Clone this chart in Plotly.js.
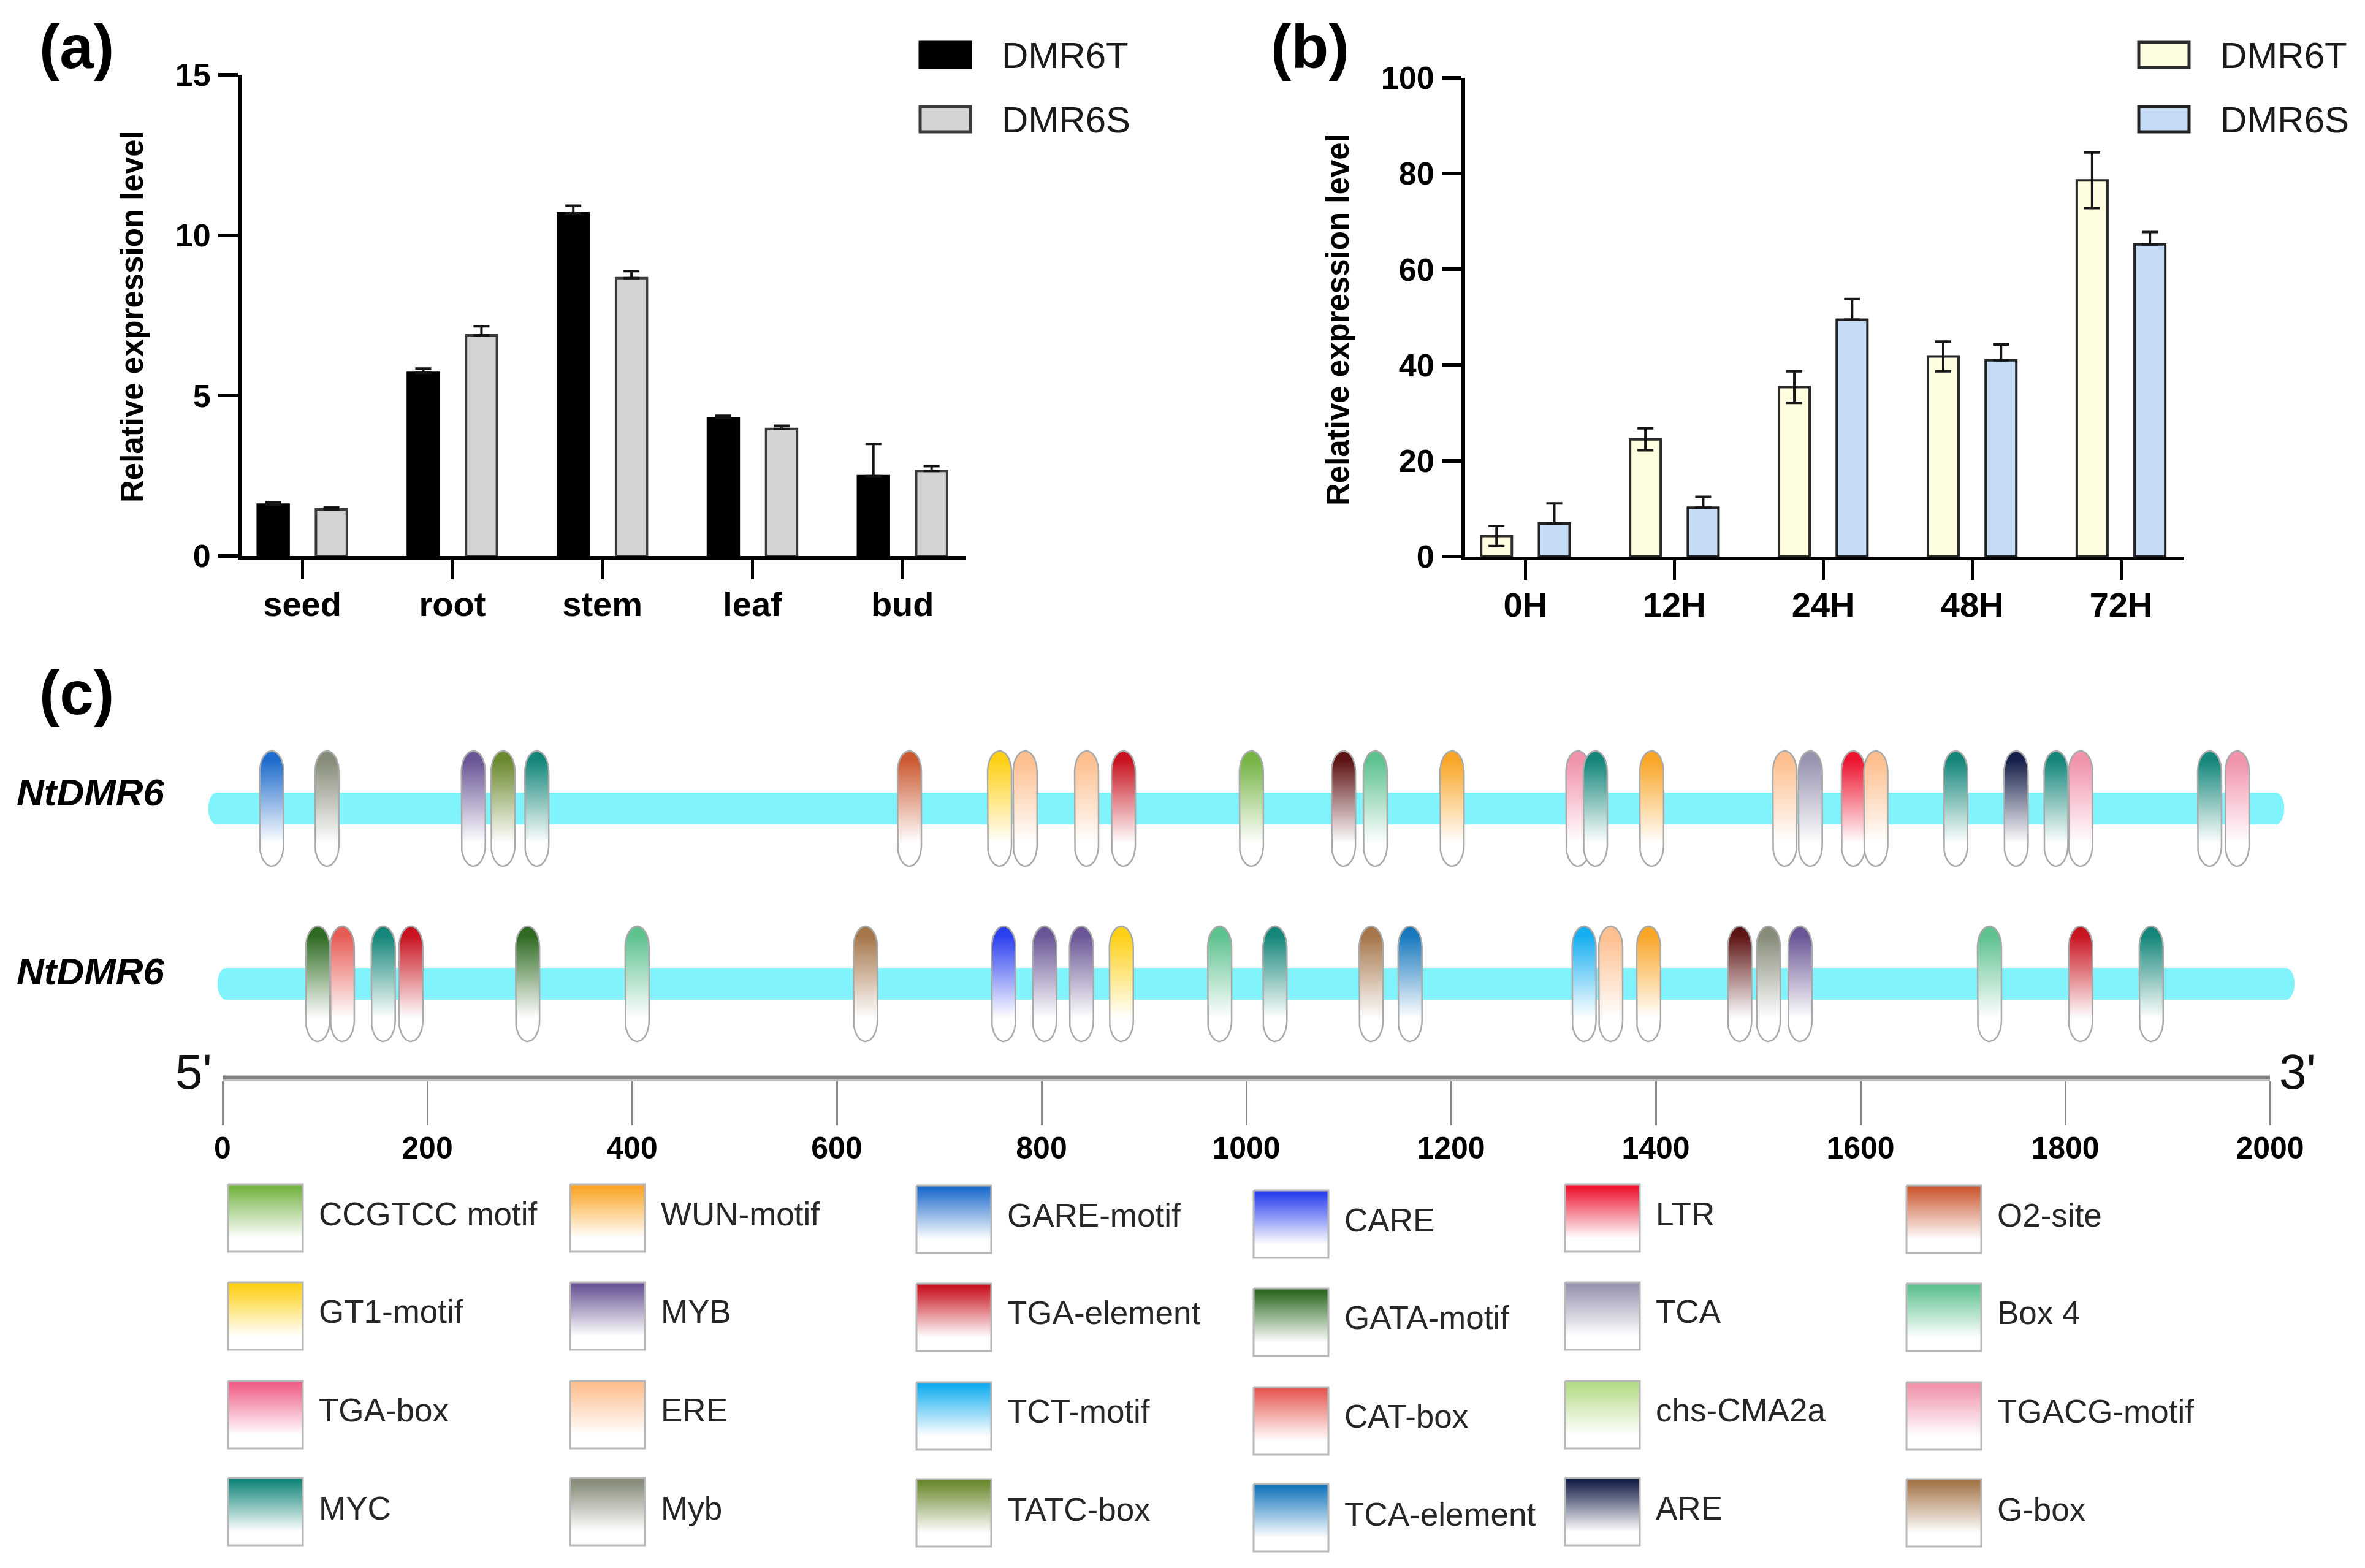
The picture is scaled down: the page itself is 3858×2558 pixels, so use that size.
<!DOCTYPE html>
<html><head><meta charset="utf-8">
<script src="https://cdn.plot.ly/plotly-3.0.1.min.js"></script>
<style>html,body{margin:0;padding:0;background:#fff}#chart{width:3858px;height:2558px}</style>
</head><body><div id="chart"></div>
<script>
// ---------------- DATA ----------------
const tissues = ['seed', 'root', 'stem', 'leaf', 'bud'];
const aDMR6T = [1.6, 5.71, 10.68, 4.3, 2.49];
const aDMR6Terr = [0.08, 0.13, 0.24, 0.07, 1.0];
const aDMR6S = [1.45, 6.88, 8.66, 3.96, 2.65];
const aDMR6Serr = [0.06, 0.28, 0.22, 0.1, 0.15];
const aTicks = [0, 5, 10, 15];

const hours = ['0H', '12H', '24H', '48H', '72H'];
const bDMR6T = [4.3, 24.5, 35.4, 41.8, 78.6];
const bDMR6Terr = [2.1, 2.3, 3.3, 3.1, 5.8];
const bDMR6S = [6.9, 10.2, 49.5, 41.0, 65.2];
const bDMR6Serr = [4.2, 2.3, 4.3, 3.3, 2.6];
const bTicks = [0, 20, 40, 60, 80, 100];

const seriesNames = ['DMR6T', 'DMR6S'];
const yTitle = 'Relative expression level';
const panelLabels = ['(a)', '(b)', '(c)'];

const geneNames = ['NtDMR6', 'NtDMR6'];
const geneStart = [-14, -5];
const geneEnd = [2014, 2024];
const bpTicks = [0, 200, 400, 600, 800, 1000, 1200, 1400, 1600, 1800, 2000];
const endLabels = ["5'", "3'"];

const row1Pos = [48, 102, 245, 274, 307, 671, 759, 784, 844, 880, 1005, 1095, 1126, 1201, 1324, 1341, 1396, 1526, 1551, 1593, 1615, 1693, 1752, 1791, 1815, 1941, 1968];
const row1Motif = ['GARE-motif', 'Myb', 'MYB', 'TATC-box', 'MYC', 'O2-site', 'GT1-motif', 'ERE', 'ERE', 'TGA-element', 'CCGTCC motif', 'unlisted', 'Box 4', 'WUN-motif', 'TGACG-motif', 'MYC', 'WUN-motif', 'ERE', 'TCA', 'LTR', 'ERE', 'MYC', 'ARE', 'MYC', 'TGACG-motif', 'MYC', 'TGACG-motif'];
const row2Pos = [93, 117, 157, 184, 298, 405, 628, 763, 803, 839, 878, 974, 1028, 1122, 1160, 1330, 1356, 1393, 1482, 1510, 1541, 1726, 1815, 1884];
const row2Motif = ['GATA-motif', 'CAT-box', 'MYC', 'TGA-element', 'GATA-motif', 'Box 4', 'G-box', 'CARE', 'MYB', 'MYB', 'GT1-motif', 'Box 4', 'MYC', 'G-box', 'TCA-element', 'TCT-motif', 'ERE', 'WUN-motif', 'unlisted', 'Myb', 'MYB', 'Box 4', 'TGA-element', 'MYC'];

// legend order: column by column
const motifNames = ['CCGTCC motif', 'GT1-motif', 'TGA-box', 'MYC',
  'WUN-motif', 'MYB', 'ERE', 'Myb',
  'GARE-motif', 'TGA-element', 'TCT-motif', 'TATC-box',
  'CARE', 'GATA-motif', 'CAT-box', 'TCA-element',
  'LTR', 'TCA', 'chs-CMA2a', 'ARE',
  'O2-site', 'Box 4', 'TGACG-motif', 'G-box'];
const motifColors = ['#76b545', '#fdd017', '#ef6088', '#15877a',
  '#f9a628', '#6a5696', '#fdbf8f', '#858c78',
  '#1f6ccc', '#c81420', '#16aef0', '#6b8a2f',
  '#2b40ef', '#2e6a22', '#e65c55', '#1878bd',
  '#ed1530', '#9894b0', '#b5dc88', '#16204a',
  '#cb5a33', '#5ec28f', '#f093ab', '#a5764a'];
const unlistedColor = '#5e1414';

// ---------------- LAYOUT HELPERS ----------------
const W = 3858, H = 2558;
const FONT = '"Liberation Sans", Arial, Helvetica, sans-serif';
const px2x = p => p / W;
const px2y = p => (H - p) / H;
const colorOf = name => { const i = motifNames.indexOf(name); return i >= 0 ? motifColors[i] : unlistedColor; };

const traces = [];
const shapes = [];
const annotations = [];

// ---------------- PANEL A / B BARS ----------------
function barPair(cats, tv, te, sv, se, xa, ya, tFill, tLine, sFill, sLine, tSym) {
  traces.push({
    type: 'bar', x: cats, y: tv, xaxis: xa, yaxis: ya, name: seriesNames[0],
    offset: -0.297, width: 0.206,
    marker: {color: tFill, line: {color: tLine, width: 4}},
    error_y: {type: 'data', symmetric: false, array: te, arrayminus: tSym ? te : te.map(() => 0),
      color: '#151515', thickness: 4, width: 13},
    showlegend: false, hoverinfo: 'skip'
  });
  traces.push({
    type: 'bar', x: cats, y: sv, xaxis: xa, yaxis: ya, name: seriesNames[1],
    offset: 0.091, width: 0.206,
    marker: {color: sFill, line: {color: sLine, width: 4}},
    error_y: {type: 'data', symmetric: false, array: se, arrayminus: se.map(() => 0),
      color: '#151515', thickness: 4, width: 13},
    showlegend: false, hoverinfo: 'skip'
  });
}
barPair(tissues, aDMR6T, aDMR6Terr, aDMR6S, aDMR6Serr, 'x', 'y', '#000000', '#000000', '#d4d4d4', '#3a3a3a', false);
barPair(hours, bDMR6T, bDMR6Terr, bDMR6S, bDMR6Serr, 'x2', 'y2', '#fefde0', '#2a2a2a', '#c6dcf6', '#222222', true);

// ---------------- PANEL C GENES ----------------
const PX_PER_BP = (3703 - 363) / 2000;
const ROW_PX = 286;
const rowValue = [1, 0];

function geneBar(start, end, row) {
  const hh = 26 / ROW_PX, rh = 14 / PX_PER_BP;
  const xs = [], ys = [];
  for (let i = 0; i <= 16; i++) { const t = -Math.PI / 2 + Math.PI * i / 16; xs.push(end - rh + rh * Math.cos(t)); ys.push(row + hh * Math.sin(t)); }
  for (let i = 0; i <= 16; i++) { const t = Math.PI / 2 + Math.PI * i / 16; xs.push(start + rh + rh * Math.cos(t)); ys.push(row + hh * Math.sin(t)); }
  xs.push(xs[0]); ys.push(ys[0]);
  return {type: 'scatter', mode: 'lines', x: xs, y: ys, xaxis: 'x3', yaxis: 'y3', fill: 'toself',
    fillcolor: '#80f3fc', line: {width: 0, color: 'rgba(0,0,0,0)'}, hoverinfo: 'skip', showlegend: false};
}
function pill(pos, row, color) {
  const hw = 19.5 / PX_PER_BP, hh = 94 / ROW_PX, rv = 34 / ROW_PX;
  const cyT = row + hh - rv, cyB = row - hh + rv;
  const xs = [], ys = [];
  for (let i = 0; i <= 24; i++) { const t = Math.PI * i / 24; xs.push(pos + hw * Math.cos(t)); ys.push(cyT + rv * Math.sin(t)); }
  for (let i = 0; i <= 24; i++) { const t = Math.PI + Math.PI * i / 24; xs.push(pos + hw * Math.cos(t)); ys.push(cyB + rv * Math.sin(t)); }
  xs.push(xs[0]); ys.push(ys[0]);
  return {type: 'scatter', mode: 'lines', x: xs, y: ys, xaxis: 'x3', yaxis: 'y3', fill: 'toself',
    fillcolor: color,
    fillgradient: {type: 'vertical', colorscale: [[0, '#ffffff'], [0.2, '#ffffff'], [0.92, color], [1, color]]},
    line: {color: '#a9a9a9', width: 2.5}, hoverinfo: 'skip', showlegend: false};
}
traces.push(geneBar(geneStart[0], geneEnd[0], rowValue[0]));
traces.push(geneBar(geneStart[1], geneEnd[1], rowValue[1]));
row1Pos.forEach((p, i) => traces.push(pill(p, rowValue[0], colorOf(row1Motif[i]))));
row2Pos.forEach((p, i) => traces.push(pill(p, rowValue[1], colorOf(row2Motif[i]))));
// empty trace to register the scale subplot
traces.push({type: 'scatter', x: [], y: [], xaxis: 'x5', yaxis: 'y5', hoverinfo: 'skip', showlegend: false});

// ---------------- PANEL C LEGEND (pixel axes x4/y4) ----------------
const legColX = [372, 930, 1495, 2045, 2553, 3110];
const legColDy = [0, 0, 2, 10, 0, 2];
const legRowY = [1932, 2092, 2253, 2411];
const legTextY = [1980, 2139, 2300, 2460];
const SW = 122, SH = 110;
motifNames.forEach((name, k) => {
  const c = Math.floor(k / 4), r = k % 4;
  const x0 = legColX[c], x1 = x0 + SW, yt = legRowY[r] + legColDy[c], yb = yt + SH;
  const color = motifColors[k];
  traces.push({type: 'scatter', mode: 'lines', xaxis: 'x4', yaxis: 'y4',
    x: [x0, x1, x1, x0, x0], y: [H - yt, H - yt, H - yb, H - yb, H - yt], fill: 'toself', fillcolor: color,
    fillgradient: {type: 'vertical', colorscale: [[0, '#ffffff'], [0.2, '#ffffff'], [0.95, color], [1, color]]},
    line: {color: '#b8b8b8', width: 3}, hoverinfo: 'skip', showlegend: false});
  annotations.push({xref: 'paper', yref: 'paper', x: px2x(x1 + 24), y: px2y(legTextY[r] + legColDy[c]),
    xanchor: 'left', yanchor: 'middle', showarrow: false, text: name,
    font: {family: FONT, size: 53, color: '#262626'}});
});

// ---------------- LEGENDS A / B ----------------
function barLegend(x0, fills, lines) {
  const tops = [69, 174];
  tops.forEach((t, i) => {
    shapes.push({type: 'rect', xref: 'paper', yref: 'paper', x0: px2x(x0), x1: px2x(x0 + 82),
      y0: px2y(t + 41), y1: px2y(t), fillcolor: fills[i], line: {color: lines[i], width: 5}});
    annotations.push({xref: 'paper', yref: 'paper', x: px2x(x0 + 131), y: px2y(t + 21), xanchor: 'left', yanchor: 'middle',
      showarrow: false, text: seriesNames[i], font: {family: FONT, size: 60, color: '#1a1a1a'}});
  });
}
barLegend(1501, ['#000000', '#d4d4d4'], ['#000000', '#3a3a3a']);
barLegend(3489, ['#fefde0', '#c6dcf6'], ['#2a2a2a', '#222222']);

// panel labels
[[62, 76], [2071, 76], [62, 1130]].forEach((p, i) => annotations.push({xref: 'paper', yref: 'paper',
  x: px2x(p[0]), y: px2y(p[1]), xanchor: 'left', yanchor: 'middle', showarrow: false, text: panelLabels[i],
  font: {family: FONT, size: 100, weight: 'bold', color: '#000'}}));
// y titles
[[215, 517], [2182, 522]].forEach(p => annotations.push({xref: 'paper', yref: 'paper',
  x: px2x(p[0]), y: px2y(p[1]), xanchor: 'center', yanchor: 'middle', showarrow: false, textangle: -90,
  text: yTitle, font: {family: FONT, size: 51, weight: 'bold', color: '#000'}}));
// gene names
[1292, 1584].forEach((y, i) => annotations.push({xref: 'paper', yref: 'paper', x: px2x(25), y: px2y(y),
  xanchor: 'left', yanchor: 'middle', showarrow: false, text: geneNames[i],
  font: {family: FONT, size: 62, weight: 'bold', style: 'italic', color: '#000'}}));
// 5' / 3'
[[316, 1748], [3748, 1748]].forEach((p, i) => annotations.push({xref: 'paper', yref: 'paper', x: px2x(p[0]), y: px2y(p[1]),
  xanchor: 'center', yanchor: 'middle', showarrow: false, text: endLabels[i],
  font: {family: '"Liberation Sans Narrow", "Liberation Sans", Arial, sans-serif', size: 80, color: '#111'}}));

// darker core of the scale line
shapes.push({type: 'line', xref: 'x5', yref: 'paper', x0: bpTicks[0], x1: bpTicks[bpTicks.length - 1],
  y0: px2y(1758), y1: px2y(1758), line: {color: '#7f7f7f', width: 6}, layer: 'above'});

// ---------------- AXES ----------------
const tickBold = s => ({family: FONT, size: s, weight: 'bold', color: '#000'});
function catAxis(dom, anchor) {
  return {domain: dom, anchor: anchor, type: 'category', range: [-0.405, 4.424], ticks: 'outside', ticklen: 32, tickwidth: 5,
    tickcolor: '#000', showline: true, linewidth: 6, linecolor: '#000', showgrid: false, zeroline: false,
    tickfont: tickBold(56), ticklabelstandoff: -7, fixedrange: true};
}
function valAxis(dom, anchor, rng, tv) {
  return {domain: dom, anchor: anchor, range: rng, tickvals: tv, ticktext: tv.map(String), ticks: 'outside', ticklen: 32,
    tickwidth: 6, tickcolor: '#000', showline: true, linewidth: 6, linecolor: '#000', showgrid: false, zeroline: false,
    tickfont: tickBold(52), ticklabelstandoff: 2, fixedrange: true};
}

const layout = {
  width: W, height: H, margin: {l: 0, r: 0, t: 0, b: 0, pad: 0},
  paper_bgcolor: '#ffffff', plot_bgcolor: 'rgba(0,0,0,0)', showlegend: false, barmode: 'overlay',
  font: {family: FONT, color: '#000'},
  xaxis: catAxis([px2x(394), px2x(1576)], 'y'),
  yaxis: valAxis([px2y(907), px2y(122)], 'x', [0, 15], aTicks),
  xaxis2: catAxis([px2x(2390), px2x(3563)], 'y2'),
  yaxis2: valAxis([px2y(908), px2y(127)], 'x2', [0, 100], bTicks),
  xaxis3: {domain: [px2x(250), px2x(3830)], anchor: 'y3', range: [(250 - 363) / PX_PER_BP, (3830 - 363) / PX_PER_BP],
    visible: false, fixedrange: true},
  yaxis3: {domain: [px2y(1745), px2y(1150)], anchor: 'x3', range: [(1605 - 1745) / ROW_PX, (1605 - 1150) / ROW_PX],
    visible: false, fixedrange: true},
  xaxis4: {domain: [0, 1], anchor: 'y4', range: [0, W], visible: false, fixedrange: true},
  yaxis4: {domain: [0, 1], anchor: 'x4', range: [0, H], visible: false, fixedrange: true},
  xaxis5: {domain: [px2x(363), px2x(3703)], anchor: 'y5', range: [bpTicks[0], bpTicks[bpTicks.length - 1]],
    tickvals: bpTicks, ticktext: bpTicks.map(String), ticks: 'outside', ticklen: 72, tickwidth: 3, tickcolor: '#8a8a8a',
    showline: true, linewidth: 11, linecolor: '#c0c0c0', showgrid: false, zeroline: false,
    tickfont: tickBold(50), ticklabelstandoff: -6, fixedrange: true},
  yaxis5: {domain: [px2y(1753), px2y(1746)], anchor: 'x5', range: [0, 1], visible: false, fixedrange: true},
  shapes: shapes,
  annotations: annotations
};

Plotly.newPlot('chart', traces, layout, {staticPlot: true, displayModeBar: false});
</script>
</body></html>
